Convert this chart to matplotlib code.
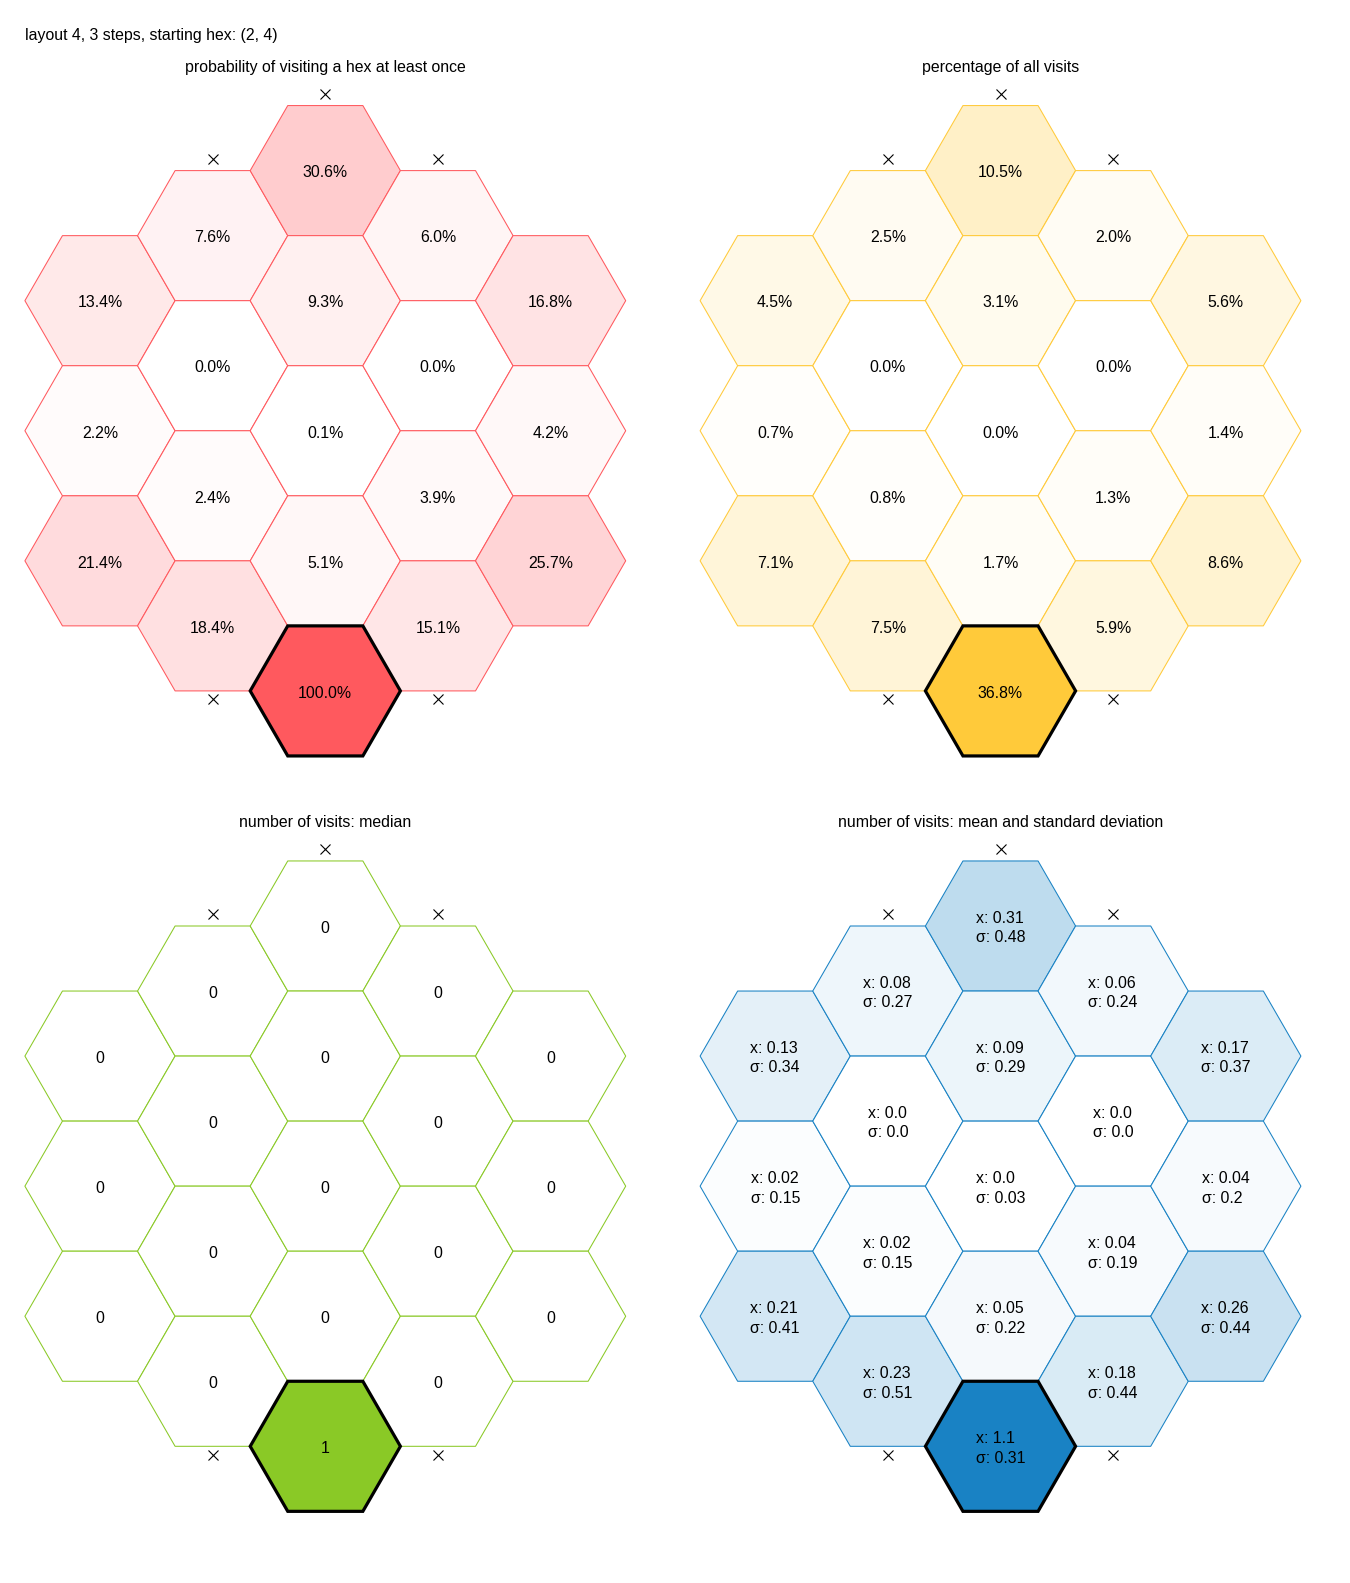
import numpy as np
import matplotlib.pyplot as plt
from matplotlib.patches import RegularPolygon
from matplotlib.colors import to_rgb

plt.rcParams['font.family'] = ['Liberation Sans', 'DejaVu Sans']

W, H = 1350, 1583
SCALE = 75.1  # pixels per hex radius
FS = 11.4

# board: number of hexes per column, left to right (rows counted top to bottom)
col_sizes = [3, 4, 5, 4, 3]
start_hex = (2, 4)

prob_once = [
    [13.4, 2.2, 21.4],
    [7.6, 0.0, 2.4, 18.4],
    [30.6, 9.3, 0.1, 5.1, 100.0],
    [6.0, 0.0, 3.9, 15.1],
    [16.8, 4.2, 25.7],
]
pct_visits = [
    [4.5, 0.7, 7.1],
    [2.5, 0.0, 0.8, 7.5],
    [10.5, 3.1, 0.0, 1.7, 36.8],
    [2.0, 0.0, 1.3, 5.9],
    [5.6, 1.4, 8.6],
]
median_visits = [
    [0, 0, 0],
    [0, 0, 0, 0],
    [0, 0, 0, 0, 1],
    [0, 0, 0, 0],
    [0, 0, 0],
]
mean_visits = [
    [0.13, 0.02, 0.21],
    [0.08, 0.0, 0.02, 0.23],
    [0.31, 0.09, 0.0, 0.05, 1.1],
    [0.06, 0.0, 0.04, 0.18],
    [0.17, 0.04, 0.26],
]
std_visits = [
    [0.34, 0.15, 0.41],
    [0.27, 0.0, 0.15, 0.51],
    [0.48, 0.29, 0.03, 0.22, 0.31],
    [0.24, 0.0, 0.19, 0.44],
    [0.37, 0.2, 0.44],
]

# hexes with an "x" marker outside them: (column, row, side)
blocked = [(2, 0, 'top'), (1, 0, 'top'), (3, 0, 'top'),
           (1, 3, 'bottom'), (3, 3, 'bottom')]

colors = ['#FF595E', '#FFCA3A', '#8AC926', '#1982C4']


def hex_center(c, r):
    x = 1.5 * (c - 2)
    y = -np.sqrt(3) * (r + abs(c - 2) / 2)
    return x, y


def shade(color, t):
    rgb = np.array(to_rgb(color))
    return tuple(1 - t * (1 - rgb))


def make_axes(fig, ox, oy):
    # ox, oy: pixel position (from top-left) of the top centre hex
    x0, x1 = -4.3, 4.3
    y0, y1 = -8.3, 1.8
    left = (ox + x0 * SCALE) / W
    width = (x1 - x0) * SCALE / W
    bottom = 1 - (oy - y0 * SCALE) / H
    height = (y1 - y0) * SCALE / H
    ax = fig.add_axes([left, bottom, width, height])
    ax.set_xlim(x0, x1)
    ax.set_ylim(y0, y1)
    ax.set_aspect('equal')
    ax.axis('off')
    return ax


def draw_board(ax, title, values, labels, color, vmax):
    for c, n in enumerate(col_sizes):
        for r in range(n):
            x, y = hex_center(c, r)
            t = values[c][r] / vmax
            is_start = (c, r) == start_hex
            poly = RegularPolygon((x, y), numVertices=6, radius=1,
                                  orientation=np.pi / 6,
                                  facecolor=shade(color, t),
                                  edgecolor='black' if is_start else color,
                                  lw=2.3 if is_start else 0.75,
                                  zorder=3 if is_start else 2)
            ax.add_patch(poly)
            ax.text(x, y - 0.03, labels[c][r], ha='center', va='center',
                    multialignment='left', linespacing=1.35,
                    fontsize=FS, zorder=4)
    for c, r, side in blocked:
        x, y = hex_center(c, r)
        dy = 1.02 if side == 'top' else -0.98
        ax.plot(x, y + dy, marker='x', ms=7.5, mew=0.8, color='black', zorder=4)
    ax.text(0, 1.375, title, ha='center', va='center', fontsize=FS)


fig = plt.figure(figsize=(W / 100, H / 100), dpi=100)
fig.text(25 / W, 1 - 35.5 / H, 'layout 4, 3 steps, starting hex: (2, 4)',
         ha='left', va='center', fontsize=FS)

prob_labels = [[f'{v:.1f}%' for v in col] for col in prob_once]
pct_labels = [[f'{v:.1f}%' for v in col] for col in pct_visits]
med_labels = [[str(v) for v in col] for col in median_visits]
mean_labels = [[f'x: {round(m, 2)}\nσ: {round(s, 2)}' for m, s in zip(mc, sc)]
               for mc, sc in zip(mean_visits, std_visits)]

panels = [
    ('probability of visiting a hex at least once', prob_once, prob_labels, 100.0, (325.3, 170.6)),
    ('percentage of all visits', pct_visits, pct_labels, max(map(max, pct_visits)), (1000.5, 170.6)),
    ('number of visits: median', median_visits, med_labels, max(map(max, median_visits)), (325.3, 926.0)),
    ('number of visits: mean and standard deviation', mean_visits, mean_labels,
     max(map(max, mean_visits)), (1000.5, 926.0)),
]

for (title, vals, labels, vmax, (ox, oy)), color in zip(panels, colors):
    ax = make_axes(fig, ox, oy)
    draw_board(ax, title, vals, labels, color, vmax)

fig.savefig('out.png', dpi=100)
